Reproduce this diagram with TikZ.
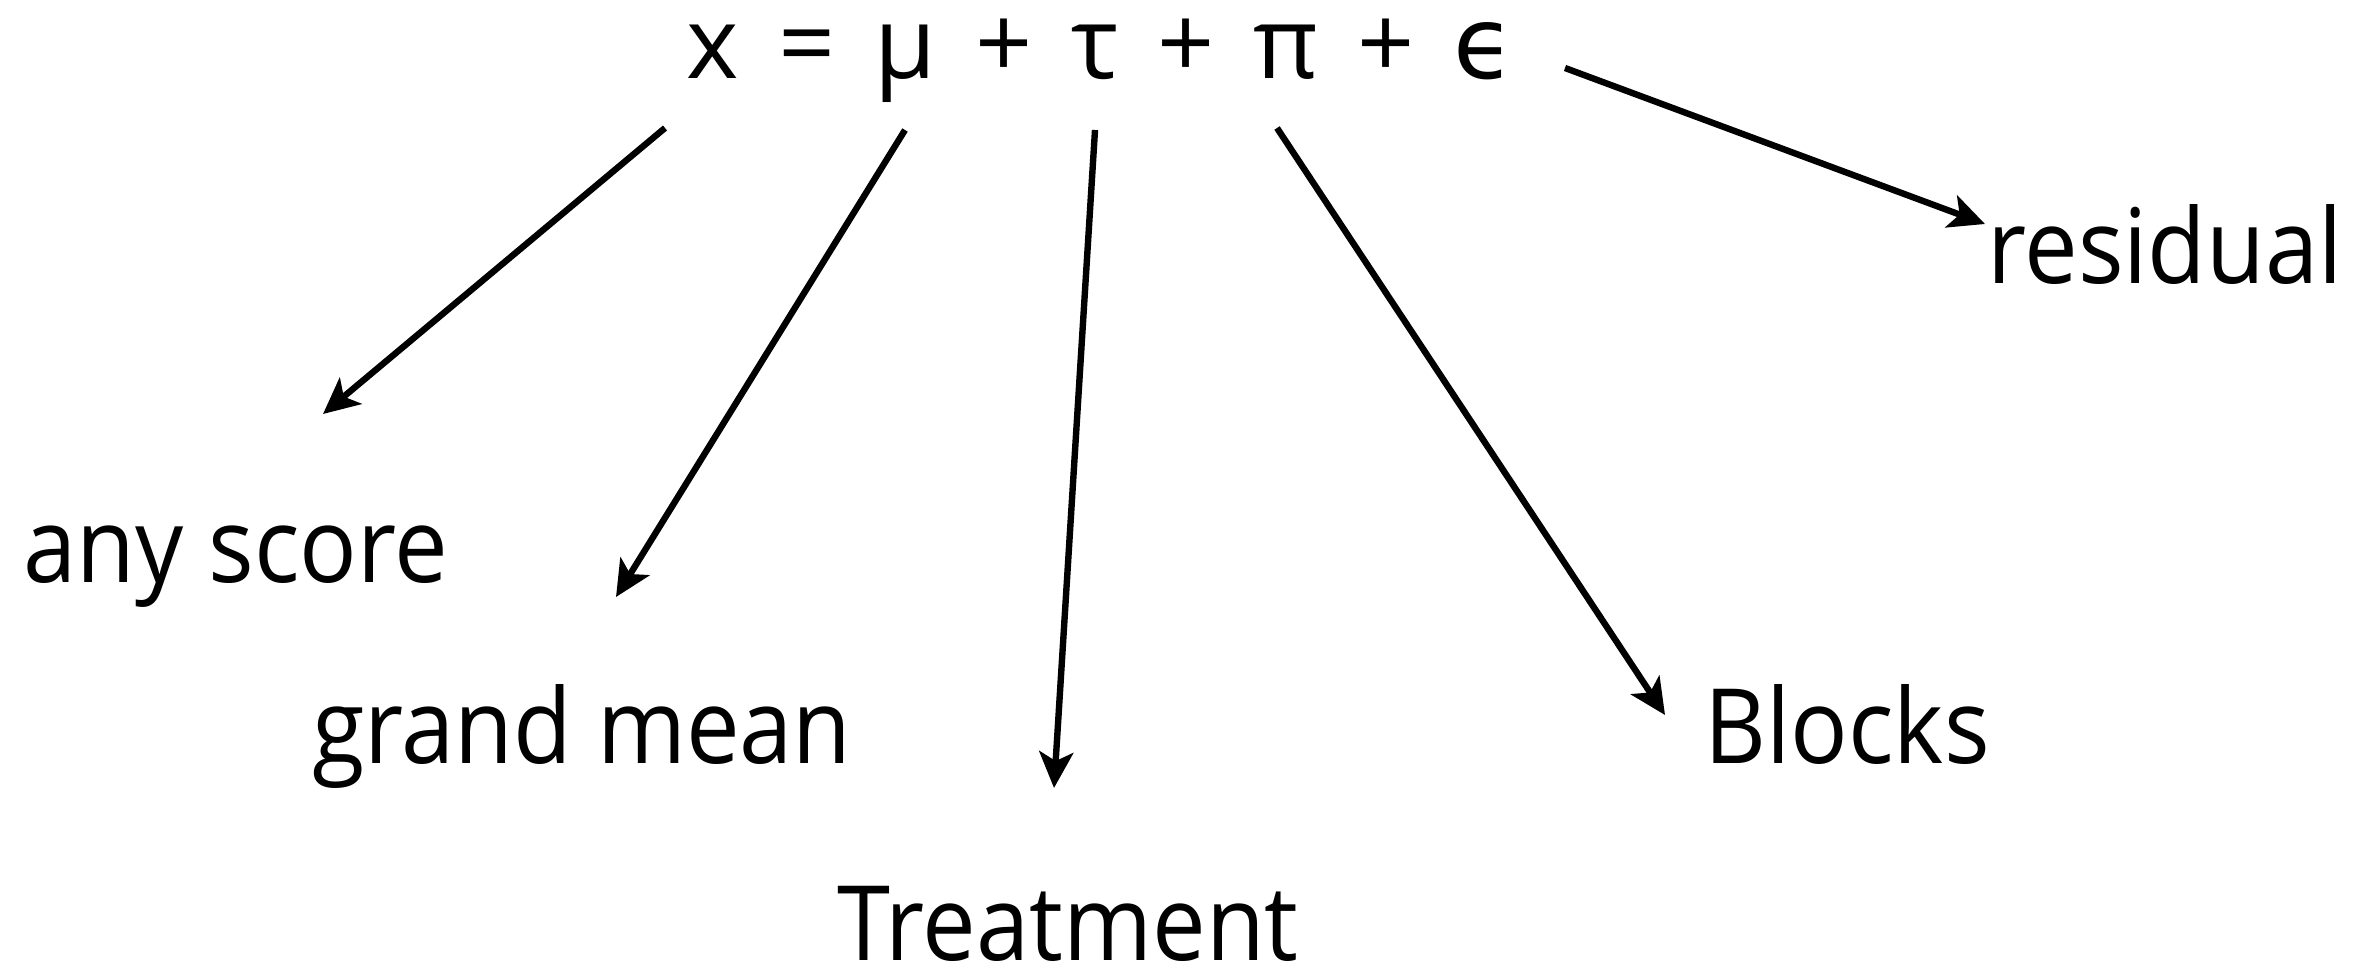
\documentclass[tikz,border=0pt]{standalone}
\usepackage{fontspec}
\setmainfont{Open Sans}
\newfontfamily\labelfont[FakeStretch=0.92]{Open Sans}
\newfontfamily\eqfont[WordSpace=1.5]{Open Sans}
\newfontfamily\epsfont{DejaVu Sans}
\usetikzlibrary{arrows.meta}
\begin{document}
\begin{tikzpicture}[x=0.5pt,y=-0.5pt,
  lbl/.style={inner sep=0pt, anchor=base, font=\labelfont\fontsize{52}{60}\selectfont},
  eqn/.style={inner sep=0pt, anchor=base, font=\eqfont\fontsize{50}{58}\selectfont},
  conn/.style={line width=3.2pt, -{Stealth[length=18pt,width=17pt,inset=4.5pt]}}]
\useasboundingbox (0,0) rectangle (2369,968);
\node[eqn] (eq) at (1101,79) {x = μ + τ + π + {\epsfont ϵ}};
\node[lbl] (any) at (236,582) {any score};
\node[lbl] (grand) at (582,763) {grand mean};
\node[lbl] (treat) at (1068,960) {Treatment};
\node[lbl] (blocks) at (1847,763) {Blocks};
\node[lbl] (resid) at (2165,283) {residual};
\coordinate (s1) at (665,128);
\coordinate (s2) at (905,130);
\coordinate (s3) at (1095,130);
\coordinate (s4) at (1277,128);
\coordinate (s5) at (1565,68);
\coordinate (t1) at (323,414);
\coordinate (t2) at (616,597);
\coordinate (t3) at (1054,788);
\coordinate (t4) at (1665,715);
\coordinate (t5) at (1985,224);
\draw[conn] (s1) -- (t1);
\draw[conn] (s2) -- (t2);
\draw[conn] (s3) -- (t3);
\draw[conn] (s4) -- (t4);
\draw[conn] (s5) -- (t5);
\end{tikzpicture}
\end{document}
